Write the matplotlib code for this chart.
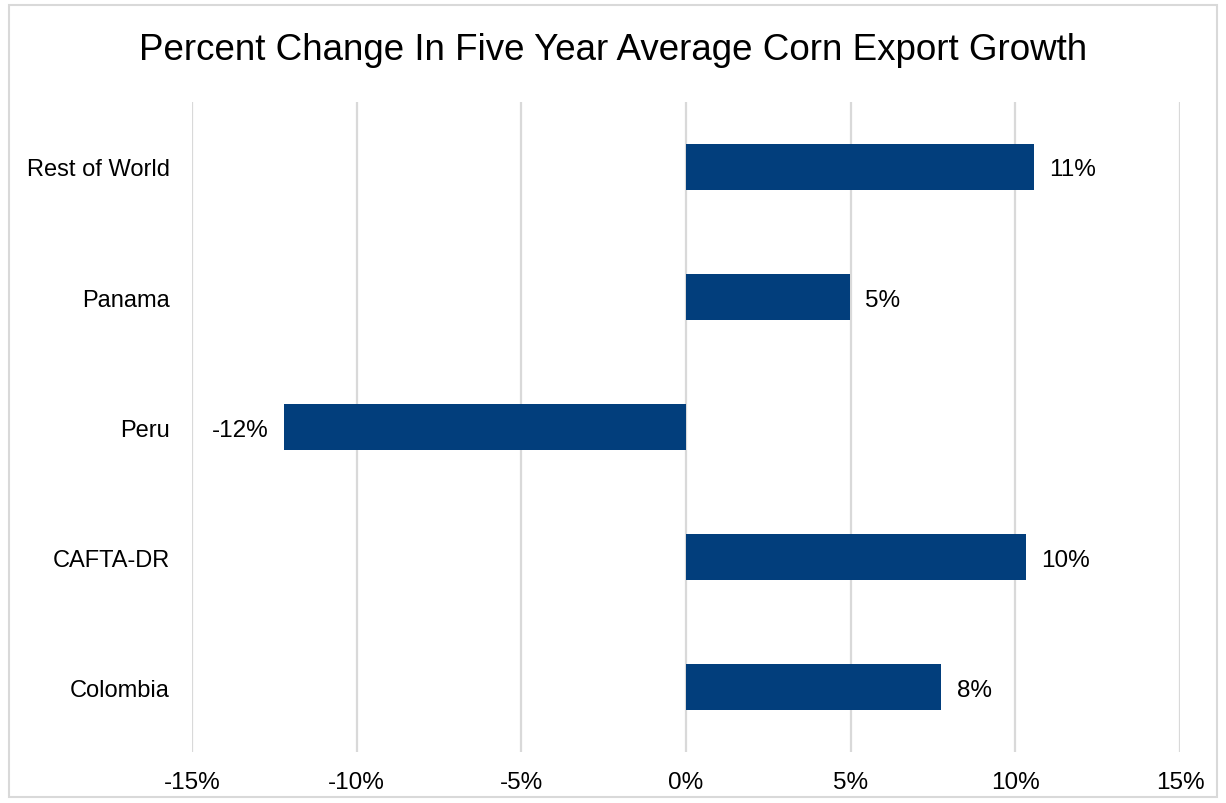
import matplotlib.pyplot as plt
from matplotlib.patches import Rectangle

plt.rcParams['font.family'] = ['Liberation Sans', 'DejaVu Sans']

# data
countries = ['Colombia', 'CAFTA-DR', 'Peru', 'Panama', 'Rest of World']
growth = [7.75, 10.33, -12.2, 4.98, 10.55]
bar_color = '#023E7C'

fig = plt.figure(figsize=(12.26, 8.04), dpi=100)
ax = fig.add_axes([0.1566, 0.0634, 0.806, 0.8085])

ypos = range(len(countries))
bars = ax.barh(ypos, growth, height=0.35, color=bar_color, zorder=3)

for b, v in zip(bars, growth):
    lbl = f'{round(v):.0f}%'
    if v >= 0:
        ax.annotate(lbl, (v, b.get_y() + b.get_height() / 2), xytext=(11, 0),
                    textcoords='offset points', ha='left', va='center_baseline', fontsize=17.5)
    else:
        ax.annotate(lbl, (v, b.get_y() + b.get_height() / 2), xytext=(-11, 0),
                    textcoords='offset points', ha='right', va='center_baseline', fontsize=17.5)

ax.set_xlim(-15, 15)
ax.set_ylim(-0.5, 4.5)
ax.set_xticks(range(-15, 16, 5))
ax.set_xticklabels([f'{t}%' for t in range(-15, 16, 5)], fontsize=17.5)
ax.set_yticks(list(ypos))
ax.set_yticklabels(countries, fontsize=17)
ax.tick_params(axis='both', length=0)
ax.tick_params(axis='x', pad=14)
ax.tick_params(axis='y', pad=16)
ax.xaxis.grid(True, color='#D9D9D9', linewidth=1.6, zorder=0)
for s in ax.spines.values():
    s.set_visible(False)

fig.text(0.5, 0.937, 'Percent Change In Five Year Average Corn Export Growth',
         ha='center', va='center', fontsize=26.5)

fig.patches.append(Rectangle((0.007, 0.007), 0.986, 0.986, transform=fig.transFigure,
                             fill=False, edgecolor='#D9D9D9', linewidth=1.5))

fig.savefig('out.png', dpi=100)
